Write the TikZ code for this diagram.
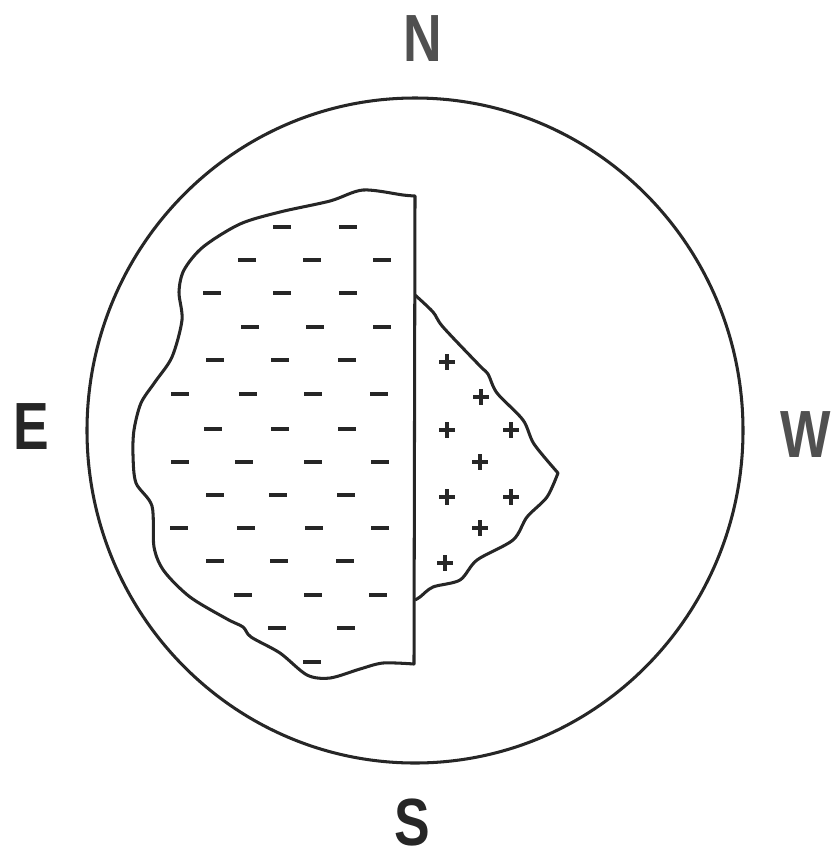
\documentclass[tikz,border=0pt]{standalone}
\usepackage{fontspec}
\usepackage{graphicx}
\setmainfont{Liberation Sans}
\usetikzlibrary{positioning}
\definecolor{InkDark}{RGB}{38,38,38}
\definecolor{LetterGray}{RGB}{80,80,80}
\newcommand{\narrowcap}[1]{\scalebox{0.8}[1]{#1}}
\tikzset{
  rim/.style={draw=InkDark,line width=2.6pt},
  edgeline/.style={draw=InkDark,line width=2.6pt,line join=round},
  minussign/.style={draw=InkDark,line width=3pt},
  plussign/.style={draw=InkDark,line width=2.8pt},
  compass/.style={text=LetterGray,inner sep=0pt,font=\fontsize{57}{59}\selectfont\bfseries}
}

\begin{document}
\begin{tikzpicture}[x=0.03cm,y=-0.03cm]
  \useasboundingbox (0,0) rectangle (833,859);
  % outer circle
  \draw[rim] (415,430.5) ellipse [x radius=328,y radius=332.5];
  \node[compass] (north) at (423,39) {\narrowcap{N}};
  \node[compass,text=InkDark] (south) at (412,823) {\narrowcap{S}};
  \node[compass,text=InkDark] (east) at (31,427) {\narrowcap{E}};
  \node[compass] (west) at (806,435) {\narrowcap{W}};
  % negative region
  \draw[edgeline] plot[smooth,tension=0.5] coordinates {(415,196) (403,195) (363,190)
    (330,201) (280,212) (240,224) (203,247) (184,270) (179,292) (182,320)
    (172,357) (155,382) (141,403) (134,430) (133,455) (136,483) (152,506) (154,547)
    (164,571) (190,597) (227,619) (243,627) (251,637) (280,653) (307,675) (330,678)
    (360,669) (383,663) (414,664)} -- cycle;
  % positive region
  \draw[edgeline] plot[smooth,tension=0.5] coordinates {(415,295) (433,312) (443,327)
    (480,366) (488,374) (497,393) (523,420) (534,444) (558,473)}
    -- plot[smooth,tension=0.5] coordinates {(558,473) (547,497) (527,517) (513,540)
    (477,560) (460,580) (433,587) (420,597) (415,600)};
  % minus signs
  \foreach \mx/\my in {282/227,348/227,
      247/260,312/260,382/260,
      212/293,282/293,348/293,
      250/327,315/327,382/327,
      215/360,280/360,347/360,
      180/394,248/394,313/394,379/394,
      213/429,280/429,347/429,
      180/462,244/462,313/462,380/462,
      215/495,278/495,346/495,
      179/528,246/528,314/528,380/528,
      215/561,279/561,345/561,
      243/595,313/595,378/595,
      277/628,346/628,
      312/662}
    \draw[minussign] (\mx-9,\my) -- (\mx+9,\my);
  % plus signs
  \foreach \px/\py in {447/362,481/397,447/430,511/430,480/462,447/497,511/497,480/528,445/563}
    \draw[plussign] (\px-8,\py) -- (\px+8,\py) (\px,\py-8) -- (\px,\py+8);
\end{tikzpicture}
\end{document}
